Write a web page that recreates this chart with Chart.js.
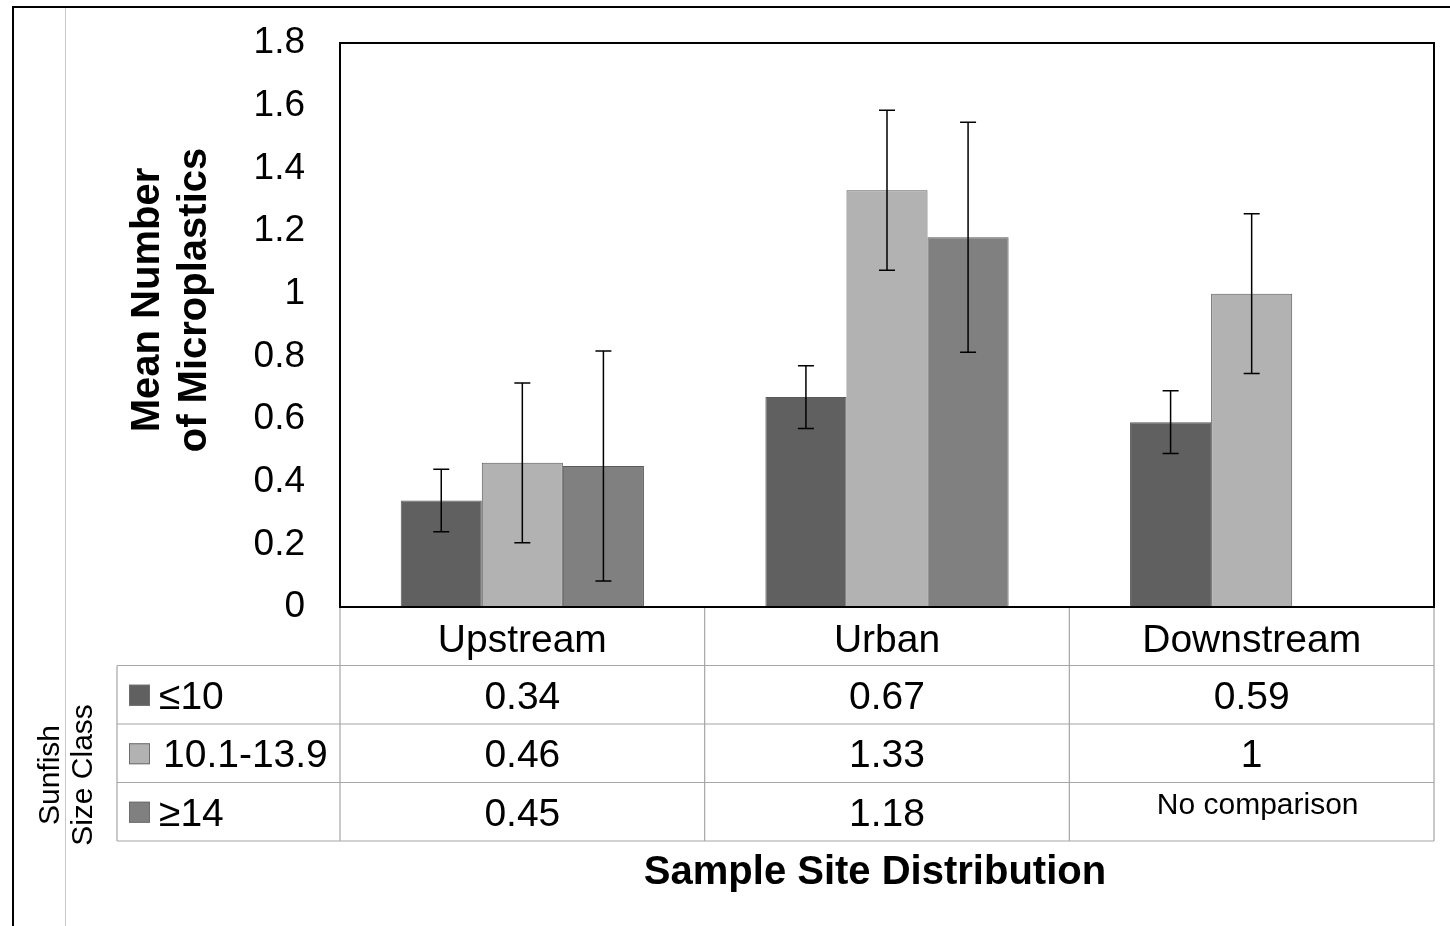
<!DOCTYPE html>
<html>
<head>
<meta charset="utf-8">
<script src="https://cdn.jsdelivr.net/npm/chart.js@4/dist/chart.umd.min.js"></script>
<style>
  html, body { margin: 0; padding: 0; background: #fff; }
  #wrap { width: 1450px; height: 926px; }
</style>
</head>
<body>
<div id="wrap"><canvas id="chart" width="1450" height="926"></canvas></div>
<script>
// Datos del gráfico
const categories = ['Upstream', 'Urban', 'Downstream'];
const sizeClasses = ['≤10', '10.1-13.9', '≥14'];
const small = [0.34, 0.67, 0.59];
const medium = [0.46, 1.33, 1];
const large = [0.45, 1.18, null];
const smallErr = [0.1, 0.1, 0.1];
const mediumErr = [0.255, 0.255, 0.255];
const largeErr = [0.367, 0.367, null];
const tableText = [
	['0.34', '0.67', '0.59'],
	['0.46', '1.33', '1'],
	['0.45', '1.18', 'No comparison']
];
const yMax = 1.8;
const yStep = 0.2;

const colors = ['#606060', '#b2b2b2', '#808080'];
const errors = [smallErr, mediumErr, largeErr];
const FONT = '"Liberation Sans", Arial, sans-serif';

// Marco exterior, títulos y tabla de datos
const decor = {
	id: 'decor',
	beforeDraw(chart) {
		const ctx = chart.ctx;
		ctx.save();
		ctx.fillStyle = '#fff';
		ctx.fillRect(0, 0, chart.width, chart.height);
		ctx.strokeStyle = '#000';
		ctx.lineWidth = 2;
		ctx.beginPath();
		ctx.moveTo(13, 926);
		ctx.lineTo(13, 7);
		ctx.lineTo(1450, 7);
		ctx.stroke();
		ctx.strokeStyle = '#c8c8c8';
		ctx.lineWidth = 1;
		ctx.beginPath();
		ctx.moveTo(65.5, 8);
		ctx.lineTo(65.5, 926);
		ctx.stroke();
		ctx.restore();
	},
	afterDatasetsDraw(chart) {
		const { ctx, chartArea: a, scales: { x, y } } = chart;
		ctx.save();

		// Barras de error
		ctx.strokeStyle = '#000';
		ctx.lineWidth = 1.5;
		chart.data.datasets.forEach((ds, di) => {
			const meta = chart.getDatasetMeta(di);
			meta.data.forEach((bar, i) => {
				const v = ds.data[i];
				const e = errors[di][i];
				if (v == null || e == null) return;
				const top = y.getPixelForValue(v + e);
				const bot = y.getPixelForValue(v - e);
				ctx.beginPath();
				ctx.moveTo(bar.x, top);
				ctx.lineTo(bar.x, bot);
				ctx.moveTo(bar.x - 8, top);
				ctx.lineTo(bar.x + 8, top);
				ctx.moveTo(bar.x - 8, bot);
				ctx.lineTo(bar.x + 8, bot);
				ctx.stroke();
			});
		});

		// Borde del área del gráfico
		ctx.strokeStyle = '#000';
		ctx.lineWidth = 2;
		ctx.strokeRect(a.left, a.top, a.right - a.left, a.bottom - a.top);

		// Tabla de datos
		const rowH = 58.5;
		const colW = (a.right - a.left) / categories.length;
		const legendLeft = 117;
		ctx.strokeStyle = '#a6a6a6';
		ctx.lineWidth = 1.2;
		ctx.beginPath();
		for (let r = 1; r <= 4; r++) {
			const yy = a.bottom + rowH * r;
			ctx.moveTo(legendLeft, yy);
			ctx.lineTo(a.right, yy);
		}
		for (let c = 0; c <= categories.length; c++) {
			const xx = a.left + colW * c;
			ctx.moveTo(xx, a.bottom + 1);
			ctx.lineTo(xx, a.bottom + rowH * 4);
		}
		ctx.moveTo(legendLeft, a.bottom + rowH);
		ctx.lineTo(legendLeft, a.bottom + rowH * 4);
		ctx.stroke();

		ctx.fillStyle = '#000';
		ctx.textAlign = 'center';
		ctx.textBaseline = 'middle';
		ctx.font = '39px ' + FONT;
		categories.forEach((c, i) => {
			ctx.fillText(c, x.getPixelForValue(i), a.bottom + rowH * 0.55 + 2);
		});
		tableText.forEach((row, r) => {
			row.forEach((t, i) => {
				const yy = a.bottom + rowH * (r + 1.5);
				if (t === 'No comparison') {
					ctx.font = '30px ' + FONT;
					ctx.fillText(t, x.getPixelForValue(i) + 6, yy - 6);
					ctx.font = '39px ' + FONT;
				} else {
					ctx.fillText(t, x.getPixelForValue(i), yy + 3);
				}
			});
		});

		// Leyenda dentro de la tabla
		ctx.textAlign = 'left';
		sizeClasses.forEach((s, r) => {
			const yy = a.bottom + rowH * (r + 1.5);
			ctx.fillStyle = colors[r];
			ctx.fillRect(129, yy - 10, 21, 21);
			ctx.strokeStyle = '#6e6e6e';
			ctx.lineWidth = 1;
			ctx.strokeRect(129.5, yy - 9.5, 20, 20);
			ctx.fillStyle = '#000';
			ctx.fillText(s, r === 1 ? 163 : 159, yy + 3);
		});

		// Títulos
		ctx.textAlign = 'center';
		ctx.font = 'bold 40px ' + FONT;
		ctx.fillText('Sample Site Distribution', 875, 873);

		ctx.save();
		ctx.translate(148, 300);
		ctx.rotate(-Math.PI / 2);
		ctx.fillText('Mean Number', 0, 0);
		ctx.fillText('of Microplastics', 0, 47);
		ctx.restore();

		ctx.save();
		ctx.translate(51, 775);
		ctx.rotate(-Math.PI / 2);
		ctx.font = '30px ' + FONT;
		ctx.fillText('Sunfish', 0, 0);
		ctx.fillText('Size Class', 0, 33);
		ctx.restore();

		ctx.restore();
	}
};

const canvas = document.getElementById('chart');
const chart = new Chart(canvas, {
	type: 'bar',
	data: {
		labels: categories,
		datasets: sizeClasses.map((s, i) => ({
			label: s,
			data: [small, medium, large][i],
			backgroundColor: colors[i],
			borderColor: '#5a5a5a',
			borderWidth: 1,
			categoryPercentage: 0.667,
			barPercentage: 1.0
		}))
	},
	options: {
		responsive: false,
		animation: false,
		layout: { padding: { top: 43, right: 16, bottom: 319, left: 0 } },
		plugins: {
			legend: { display: false },
			tooltip: { enabled: false }
		},
		scales: {
			x: { display: false },
			y: {
				min: 0,
				max: yMax,
				afterFit: (s) => {
					s.width = 340;
					s.paddingTop = 0;
					s.paddingBottom = 0;
				},
				grid: { display: false, drawTicks: false },
				border: { display: false },
				ticks: {
					stepSize: yStep,
					padding: 35,
					color: '#000',
					font: { family: FONT, size: 37 },
					callback: (v) => String(+v.toFixed(1))
				}
			}
		}
	},
	plugins: [decor]
});
</script>
</body>
</html>
